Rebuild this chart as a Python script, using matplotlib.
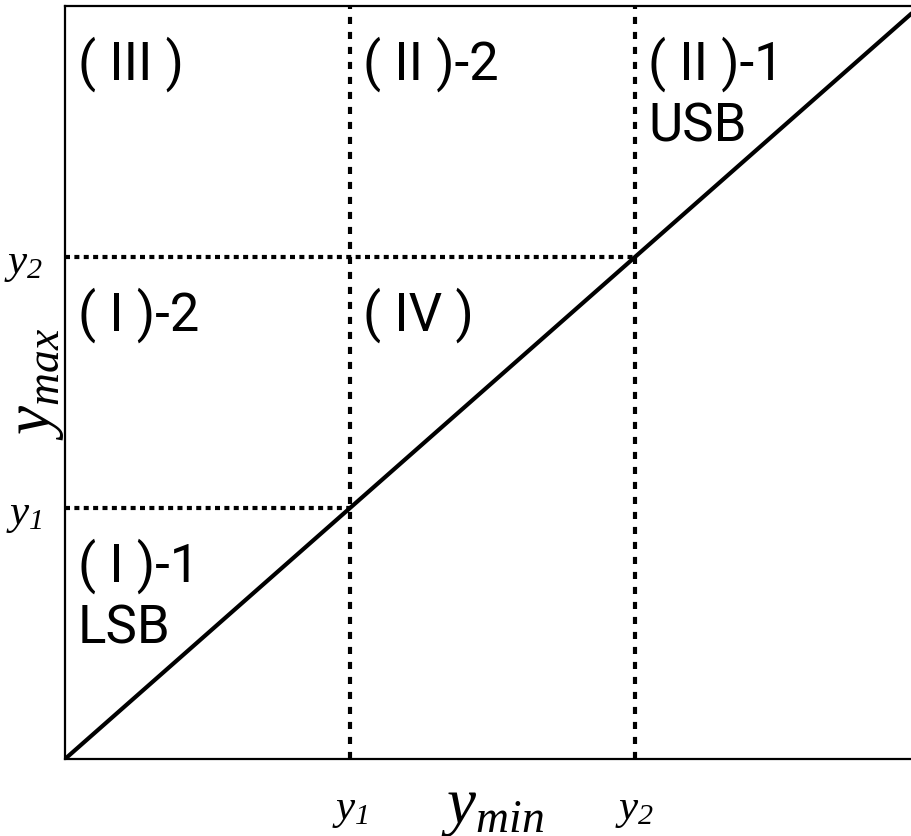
import matplotlib.pyplot as plt

plt.rcParams['mathtext.fontset'] = 'custom'
plt.rcParams['mathtext.rm'] = 'Liberation Serif:italic'
plt.rcParams['mathtext.it'] = 'Liberation Serif:italic'

# region boundaries on both axes
bounds = [1, 2]
bound_labels = [r'$y_{1}$', r'$y_{2}$']
lim = 3

# diagonal y_max = y_min
diag_x = [0, 3]
diag_y = [0, 3]

# region names and the corner (left, top) each one hangs from
region_labels = ['( III )', '( II )-2', '( II )-1\nUSB',
                 '( I )-2', '( IV )', '( I )-1\nLSB']
region_x = [0, 1, 2, 0, 1, 0]
region_y = [3, 3, 3, 2, 2, 1]

fig = plt.figure(figsize=(9.12, 8.37), dpi=100)
ax = fig.add_axes([65 / 912, 77 / 837, 855 / 912, 753 / 837])

ax.plot(diag_x, diag_y, color='black', lw=3, solid_capstyle='butt')

for b in bounds:
    ax.plot([b, b], [0, lim], color='black', lw=3.0,
            linestyle=(0, (1.7, 1.9)))
    ax.plot([0, b], [b, b], color='black', lw=3.0,
            linestyle=(0, (1.2, 1.05)))

for lab, x, y in zip(region_labels, region_x, region_y):
    ax.annotate(lab, (x, y), xytext=(13, -29), textcoords='offset pixels',
                ha='left', va='top', fontsize=38, family='Roboto',
                fontweight='normal', linespacing=1.25)

ax.set_xlim(0, lim)
ax.set_ylim(0, lim)
ax.set_xticks(bounds)
ax.set_xticklabels(bound_labels)
ax.set_yticks(bounds)
ax.set_yticklabels(bound_labels)
ax.tick_params(length=0, labelsize=31)
ax.tick_params(axis='x', pad=20)
ax.tick_params(axis='y', pad=16)

ax.set_xlabel(r'$y_{min}$', fontsize=47)
ax.set_ylabel(r'$y_{max}$', fontsize=47)
ax.xaxis.set_label_coords(0.5, -0.062)
ax.xaxis.label.set_va('center')
ax.yaxis.set_label_coords(-0.036, 0.5)
ax.yaxis.label.set_va('center')

for s in ax.spines.values():
    s.set_linewidth(1.6)
ax.spines['right'].set_visible(False)

fig.savefig('out.png', dpi=100)
